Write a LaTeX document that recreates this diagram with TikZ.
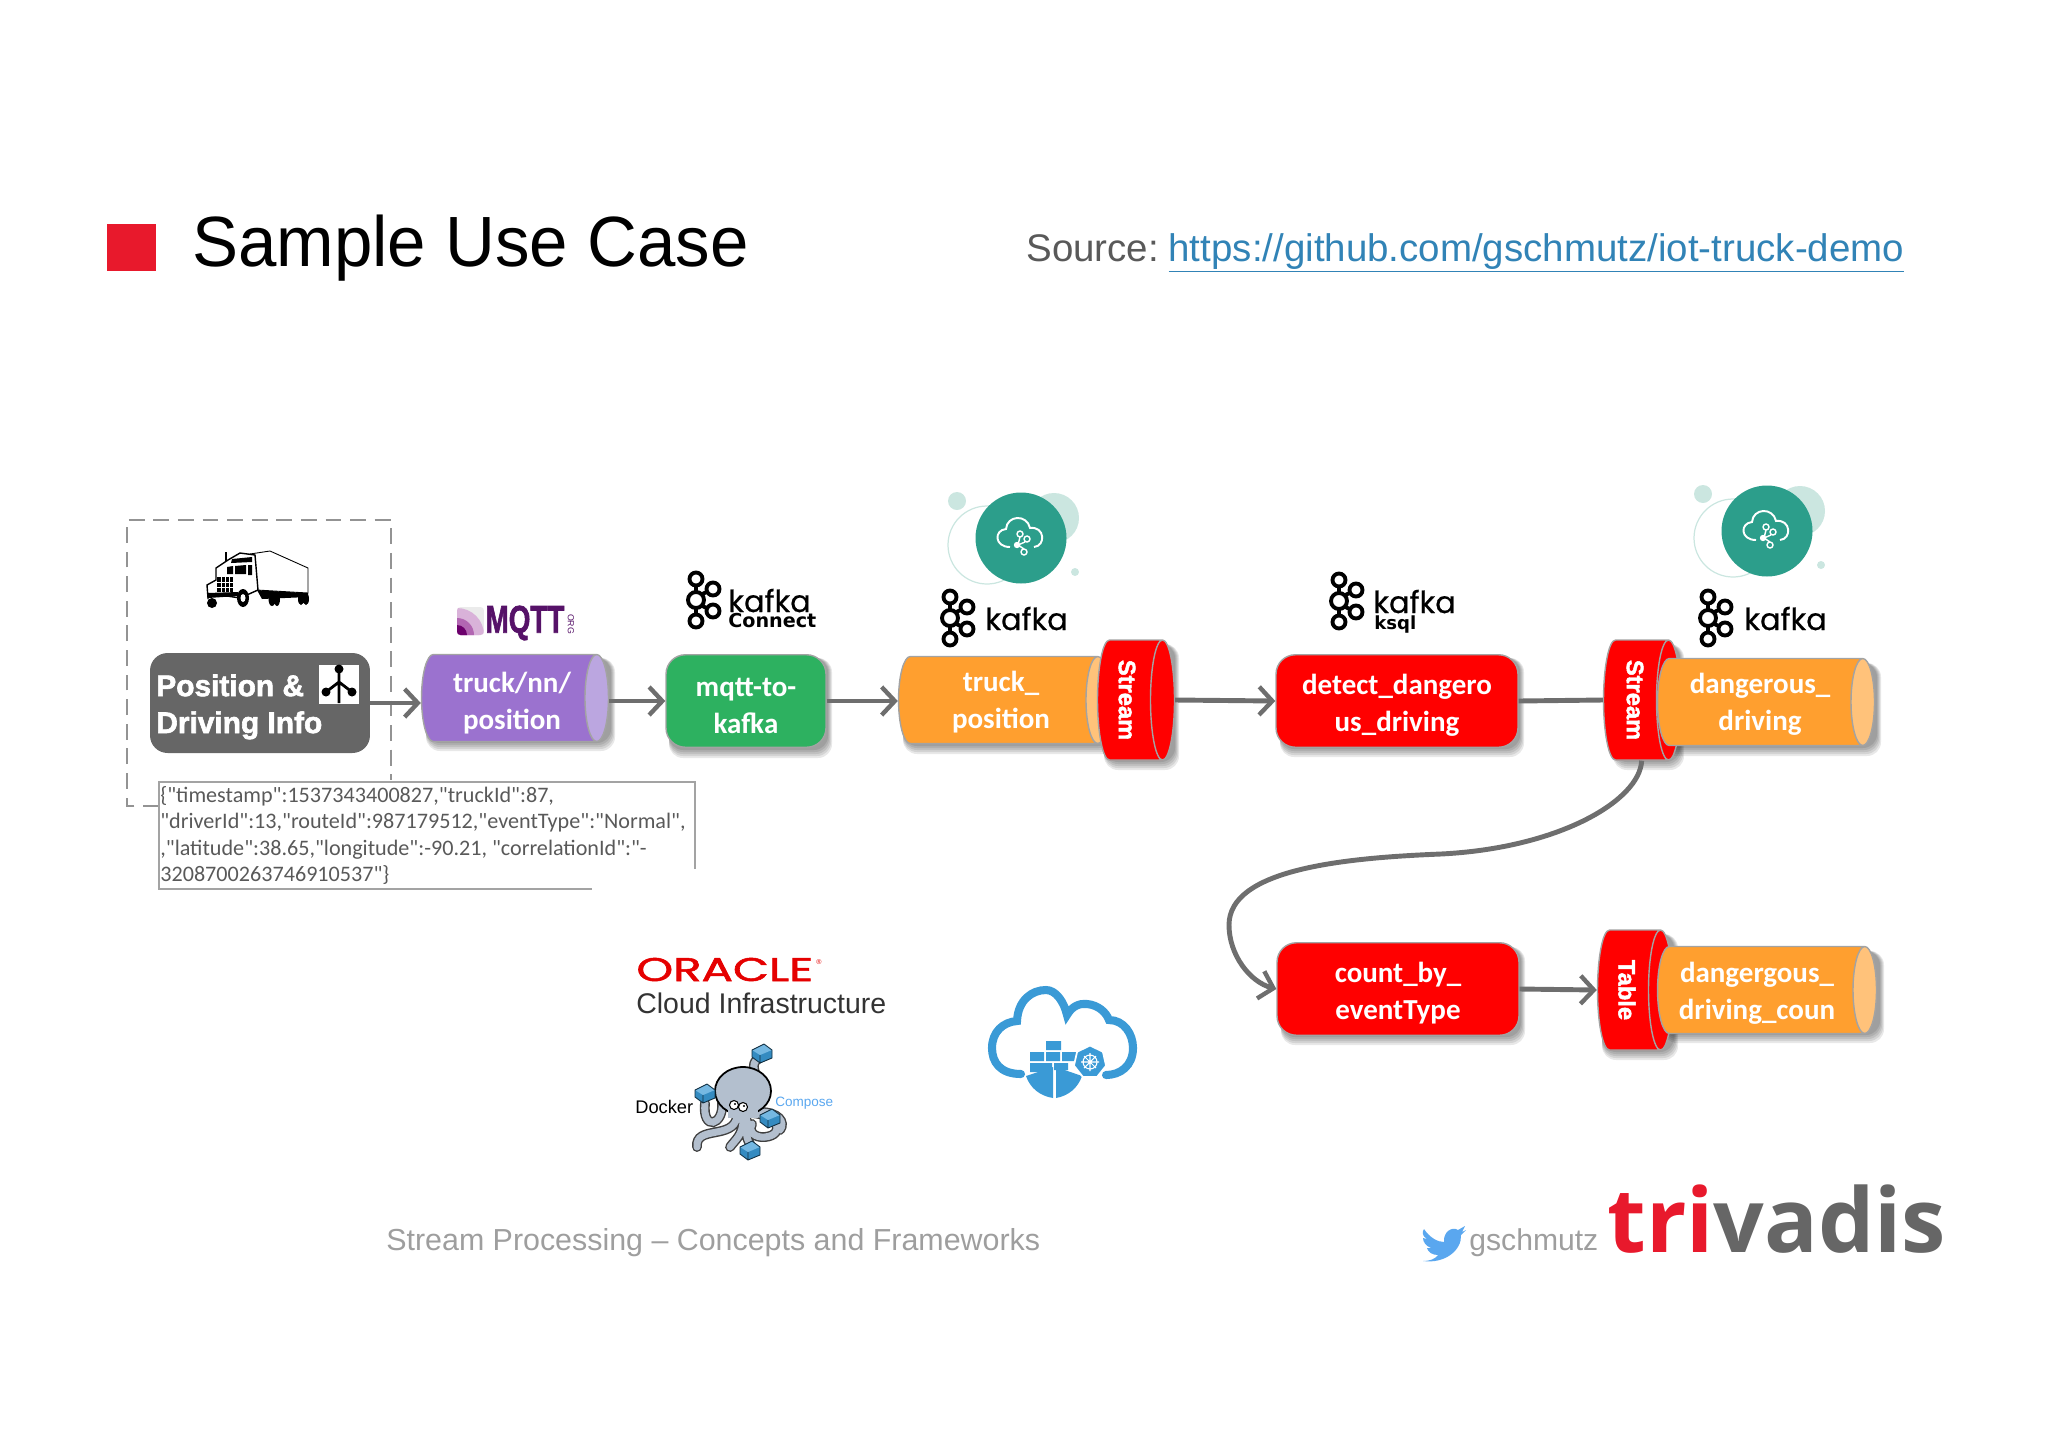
\documentclass[tikz,border=0pt]{standalone}
\usepackage{fontspec}
\usepackage{xcolor}
\usepackage{tikz}
\usetikzlibrary{arrows.meta,shapes.geometric}
\setmainfont{Carlito}
\newfontfamily\jsonfont{Carlito}
\newfontfamily\arialfont{Liberation Sans}
\newfontfamily\heavyfont{Liberation Sans}[BoldFeatures={FakeBold=2}]
\newfontfamily\dejafont{DejaVu Sans}
\newfontfamily\popfont{Poppins}[FakeBold=0.5]
\newfontfamily\oraclefont{Poppins}[FakeBold=1.5]
\newfontfamily\opensfont{Open Sans}
\definecolor{trivared}{HTML}{E8192C}
\definecolor{linegray}{HTML}{6E6E6E}
\definecolor{rimgray}{HTML}{A3A3A3}
\definecolor{procorange}{HTML}{FF9F2F}
\definecolor{endorange}{HTML}{FFC27A}
\definecolor{topicpurple}{HTML}{9B72CF}
\definecolor{endpurple}{HTML}{BBA6E0}
\definecolor{kgreen}{HTML}{2DB160}
\definecolor{teal}{HTML}{2C9E8B}
\definecolor{paleteal}{HTML}{CBE6E0}
\definecolor{cloudblue}{HTML}{3A9AD6}
\definecolor{birdblue}{HTML}{5AA7EF}
\definecolor{octogray}{HTML}{B3BFCE}
\definecolor{mqttpurple}{HTML}{561268}
\newcommand{\softshade}[4]{\foreach \s in {1,...,5}
    \fill[black,opacity=.09,rounded corners=8pt] ({#1+4},{#2+4}) rectangle ({#3+\s+1},{#4+2*\s});}
\newcommand{\liftline}{\rule{0pt}{16pt}}
\tikzset{
    flow/.style={draw=linegray,line width=2.8pt,-{Straight Barb[length=7.5pt,width=16pt,line width=2.5pt]}},
    flowplain/.style={draw=linegray,line width=2.8pt},
    nodefont/.style={text=white,font=\fontsize{16.5}{21}\selectfont\bfseries,align=center},
    procbox/.style={rounded corners=11pt,draw=rimgray,line width=.8pt,inner sep=0pt,minimum width=4.84cm,minimum height=1.85cm,
        fill=red,nodefont},
    topiccyl/.style={cylinder,anchor=shape center,draw=rimgray,line width=.8pt,inner sep=0pt,shape aspect=.27,cylinder uses custom fill,
        cylinder body fill=procorange,cylinder end fill=endorange,execute at begin node={\rule{0pt}{1.74cm}}},
    topictext/.style={inner sep=0pt,nodefont},
    sidecyl/.style={cylinder,anchor=shape center,draw=rimgray,line width=.8pt,inner sep=0pt,shape aspect=.2,cylinder uses custom fill,
        cylinder body fill=red,cylinder end fill=red,execute at begin node={\rule{0pt}{2.4cm}}},
    sidetext/.style={text=white,inner sep=0pt,rotate=-90,font=\heavyfont\fontsize{13.5}{14}\selectfont\bfseries},
    kafkaword/.style={inner sep=0pt,anchor=base west,font=\popfont\fontsize{17.3}{18}\selectfont},
    kafkasub/.style={inner sep=0pt,anchor=base west,font=\dejafont\fontsize{10.9}{11}\selectfont\bfseries},
    plaintext/.style={inner sep=0pt,anchor=base west},
    kafkamark/.pic={
        \draw[line width=2.2pt] (0,-21) -- (0,21) (0,-3) -- (17,-11) (0,3) -- (17,11);
        \foreach \cx/\cy/\cr in {0/-21/6.5,0/21/6.5,17/-11/6.5,17/11/6.5,0/0/8}
            \draw[line width=2.2pt,fill=white] (\cx,\cy) circle[radius=\cr];
    },
    badge/.pic={
        \fill[paleteal] (-64,-37) circle[radius=9] (33,-20) circle[radius=25] (54,34) circle[radius=4];
        \draw[paleteal,line width=.7pt] (-34,7) circle[radius=39];
        \fill[teal] (0,0) circle[radius=45.5];
        \draw[white,line width=1.1pt] (-11,9) .. controls (-27,9) and (-27,-8) .. (-15,-9) .. controls (-14,-23) and (6,-24) .. (9,-10)
            .. controls (24,-12) and (25,8) .. (13,9);
        \draw[white,line width=.8pt,fill=teal] (-1,-4) circle[radius=3] (6,1) circle[radius=3] (3,14) circle[radius=3] (-3,7) -- (-1,-1) (-3,7) -- (4,4) (-3,7) -- (3,11);
        \fill[white] (-4,7) circle[radius=3.2];
    },
    cubebox/.pic={
        \fill[cloudblue!90!black] (-10,-3) -- (2,-9) -- (10,-3) -- (10,5) -- (-2,10) -- (-10,4) -- cycle;
        \fill[cloudblue!70!white] (-10,-3) -- (2,-9) -- (10,-3) -- (-2,2) -- cycle;
        \draw[black!70!cloudblue,line width=.5pt] (-10,-3) -- (2,-9) -- (10,-3) -- (10,5) -- (-2,10) -- (-10,4) -- cycle (-2,2) -- (-2,10);
    },
}
\begin{document}
\begin{tikzpicture}[x=0.02cm,y=-0.02cm]
    \useasboundingbox (0,0) rectangle (2048,1447);

    % header
    \fill[trivared] (107,224) rectangle (156,271);
    \node[plaintext,xscale=.97,font=\arialfont\fontsize{40.5}{44}\selectfont] (title) at (192,266) {Sample Use Case};
    \node[plaintext,font=\arialfont\fontsize{21.9}{24}\selectfont,text=black!65] (source) at (1026,261)
        {Source:\hspace{.25em}\textcolor{cloudblue!85!black}{\underline{https://github.com/gschmutz/iot-truck-demo}}};

    % source of the events
    \draw[rimgray!90!black,dash pattern=on 9pt off 5pt,line width=1pt] (159,806) -- (127,806) -- (127,520) -- (391,520) -- (391,780);
    \begin{scope}[line width=.5pt]
        \fill[black] (257,590) -- (308,593) -- (308,597) -- (262,599) -- cycle;
        \draw[fill=white] (250,554) -- (270,551) -- (308,568) -- (308,593) -- (257,590) -- cycle;
        \draw[line width=1pt] (226,552) -- (226,566);
        \draw[fill=white,line width=.8pt] (228,560) -- (240,553) -- (255,555) -- (258,590) -- (240,598) -- (214,594) -- (208,598) -- (207,585) -- (216,580) -- (216,568) -- cycle;
        \fill[black] (232,559) -- (252,557) -- (252,562) -- (231,563) -- cycle (227,567) -- (233,566) -- (233,574) -- (227,574) -- cycle (235,566) -- (246,565) -- (246,574) -- (235,574) -- cycle (248,565) -- (252,565) -- (252,575) -- (248,575) -- cycle;
        \fill[black] (217,577) rectangle (233,592);
        \draw[white,line width=.35pt] (221,577) -- (221,592) (225,577) -- (225,592) (229,577) -- (229,592) (217,582) -- (233,582) (217,587) -- (233,587);
        \fill[black] (207,593) -- (238,592) -- (238,596) -- (208,598) -- cycle;
        \fill[black] (212,603) ellipse[x radius=5,y radius=5] (243,598) ellipse[x radius=6,y radius=9]
            (272,599) ellipse[x radius=3.5,y radius=7] (277,599) ellipse[x radius=3,y radius=7] (301,599) ellipse[x radius=3,y radius=6] (306,599) ellipse[x radius=3,y radius=6];
        \fill[white] (243,598) ellipse[x radius=2.5,y radius=4];
    \end{scope}
    \node[fill=black!60,rounded corners=10pt,inner sep=0pt,minimum width=4.4cm,minimum height=2cm] (position) at (260,703) {};
    \node[plaintext,text=white,align=left,font=\heavyfont\fontsize{17}{21}\selectfont\bfseries] (positiontext) at (156,733) {Position \&\\Driving Info};
    \fill[white] (319,665) rectangle (359,704);
    \draw[line width=1.6pt] (339,669) -- (339,703) (326,692) -- (339,682) -- (352,692);
    \fill[black] (339,669) circle[radius=4.5] (326,692) circle[radius=4.5] (352,692) circle[radius=4.5];

    \node[plaintext,anchor=north west,align=left,text=black!65,font=\jsonfont\fontsize{12.6}{15}\selectfont] (json) at (160,786)
        {\{"timestamp":1537343400827,"truckId":87,\\"driverId":13,"routeId":987179512,"eventType":"Normal",\\,"latitude":38.65,"longitude":-90.21, "correlationId":"-\\3208700263746910537"\}};
    \draw[rimgray,line width=1.1pt] (695,869) -- (695,782) -- (159,782) -- (159,889) -- (592,889);

    % mqtt logo
    \begin{scope}
        \clip[rounded corners=2pt] (457,607) rectangle (484,635);
        \fill[black!8] (457,607) rectangle (484,635);
        \fill[violet!30] (457,635) circle[radius=27];
        \fill[white!70!violet] (457,635) circle[radius=22];
        \fill[violet!60] (457,635) circle[radius=17];
        \fill[violet!85!black] (457,635) circle[radius=10];
    \end{scope}
    \node[inner sep=0pt,xscale=.72,text=mqttpurple,font=\heavyfont\fontsize{22}{23}\selectfont\bfseries] (mqtt) at (525,623) {MQTT};
    \node[inner sep=0pt,rotate=-90,text=mqttpurple,font=\arialfont\fontsize{5}{5}\selectfont] (mqttorg) at (571,624) {ORG};

    % shadows first, they lie under everything in the row
    \softshade{422}{654}{609}{741}
    \softshade{665}{654}{826}{748}
    \softshade{899}{657}{1110}{744}
    \softshade{1100}{640}{1173}{760}
    \softshade{1276}{654}{1518}{747}
    \softshade{1609}{640}{1678}{760}
    \softshade{1658}{659}{1875}{746}
    \softshade{1277}{943}{1519}{1035}
    \softshade{1598}{930}{1672}{1050}
    \softshade{1659}{947}{1878}{1033}

    % flow, upper row
    \node[topiccyl,minimum height=3.74cm,cylinder body fill=topicpurple,cylinder end fill=endpurple] (mqtttopic) at (515,698) {};
    \node[topictext] (mqtttopictext) at (512,703) {truck/nn/\\position};
    \node[procbox,fill=kgreen,minimum width=3.2cm] (mqttkafka) at (746,701) {\liftline mqtt-to-\\kafka};
    \node[topiccyl,minimum height=4.22cm] (truckpos) at (1004,700) {};
    \node[topictext] (truckpostext) at (1001,702) {truck\_\\position};
    \node[sidecyl,minimum height=1.54cm] (stream1) at (1136,700) {};
    \node[sidetext] (stream1text) at (1127,700) {Stream};
    \node[procbox] (detect) at (1397,701) {\liftline detect\_dangero\\us\_driving};
    \node[sidecyl,minimum height=1.54cm] (stream2) at (1642,700) {};
    \node[sidetext] (stream2text) at (1635,700) {Stream};
    \node[topiccyl,minimum height=4.34cm] (dangerous) at (1766,702) {};
    \node[topictext] (dangeroustext) at (1760,704) {dangerous\_\\driving};

    % flow, lower row
    \node[procbox] (countby) at (1398,989) {\liftline count\_by\_\\eventType};
    \node[sidecyl,minimum height=1.5cm] (table) at (1635,990) {};
    \node[sidetext] (tabletext) at (1627,990) {Table};
    \node[topiccyl,minimum height=4.38cm] (dangercount) at (1767,990) {};
    \node[topictext] (dangercounttext) at (1757,993) {dangergous\_\\driving\_coun};

    \draw[flow] (position.east) -- (position.east -| mqtttopic.west);
    \draw[flow] (mqtttopic.east |- mqttkafka.west) -- (mqttkafka.west);
    \draw[flow] (mqttkafka.east) -- (mqttkafka.east -| truckpos.west);
    \draw[flow] (stream1.east) -- (detect.west);
    \draw[flowplain] (detect.east) -- (stream2.west);
    \draw[flow] (countby.east) -- (table.west);
    \draw[flow] ([xshift=3.4pt]stream2.south) .. controls (1640,800) and (1560,848) .. (1441,854)
        .. controls (1340,858) and (1229,870) .. (1229,925) .. controls (1229,955) and (1250,982) .. (countby.west);

    % logos above the row
    \pic at (950,618) {kafkamark};
    \node[kafkaword] (kafka1) at (985,630) {kafka};
    \pic at (1021,538) {badge};
    \pic at (696,600) {kafkamark};
    \node[kafkaword] (kafkaconn) at (728,612) {kafka};
    \node[kafkasub] (connect) at (728,627) {Connect};
    \pic at (1339,601) {kafkamark};
    \node[kafkaword] (kafkaksql) at (1373,613) {kafka};
    \node[kafkasub,font=\dejafont\fontsize{10.3}{11}\selectfont\bfseries] (ksql) at (1374,629) {ksql};
    \pic at (1708,618) {kafkamark};
    \node[kafkaword] (kafka2) at (1744,630) {kafka};
    \pic at (1767,531) {badge};

    % oracle and docker
    \node[plaintext,xscale=1.42,text=red!90!black,font=\oraclefont\fontsize{18.7}{19}\selectfont] (oracle) at (636,981) {ORACLE};
    \node[plaintext,text=red!90!black,font=\arialfont\fontsize{4}{4}\selectfont] (oraclereg) at (816,964) {®};
    \node[plaintext,text=black!80,font=\arialfont\fontsize{16.2}{18}\selectfont] (oci) at (636,1013) {Cloud Infrastructure};
    \node[plaintext,font=\arialfont\fontsize{10.4}{11}\selectfont] (docker) at (635,1113) {Docker};
    \begin{scope}
        \foreach \wd/\col in {5.6pt/black!75,4pt/octogray}
            \draw[line width=\wd,\col,line cap=round] (755,1073) .. controls (752,1062) and (755,1060) .. (764,1056)
                (722,1103) .. controls (724,1125) and (702,1132) .. (705,1103)
                (737,1117) .. controls (733,1140) and (695,1125) .. (697,1147)
                (743,1120) .. controls (743,1135) and (735,1140) .. (730,1147)
                (747,1120) .. controls (745,1135) and (747,1140) .. (752,1147)
                (752,1113) .. controls (780,1115) and (785,1135) .. (765,1137) .. controls (755,1138) and (748,1132) .. (752,1124)
                (760,1112) .. controls (778,1112) and (786,1122) .. (780,1130);
        \draw[line width=1pt,fill=octogray] (743,1091) ellipse[x radius=28,y radius=24];
        \fill[octogray] (728,1102) rectangle (758,1118);
        \draw[line width=.6pt,fill=white] (734,1105) circle[radius=4.5] (743,1107) circle[radius=4.5];
        \fill (735,1104) circle[radius=1.2] (744,1106) circle[radius=1.2];
        \pic at (762,1053) {cubebox};
        \pic at (705,1093) {cubebox};
        \pic at (770,1118) {cubebox};
        \pic at (750,1150) {cubebox};
    \end{scope}
    \node[plaintext,text=birdblue,font=\arialfont\fontsize{7.7}{8}\selectfont] (compose) at (775,1106) {Compose};

    % cloud with ship
    \draw[cloudblue,line width=4.6pt,line cap=round] (1021,1074) .. controls (1000,1074) and (992,1062) .. (992,1048)
        .. controls (992,1032) and (1003,1022) .. (1017,1021) .. controls (1018,1000) and (1032,990) .. (1046,990)
        .. controls (1056,990) and (1064,1002) .. (1067,1015) .. controls (1072,1006) and (1080,1003) .. (1087,1004)
        .. controls (1098,1005) and (1106,1012) .. (1109,1020) .. controls (1124,1020) and (1133,1034) .. (1133,1048)
        .. controls (1133,1066) and (1120,1075) .. (1106,1075);
    \fill[cloudblue] (1046,1041) rectangle (1061,1050) (1030,1052) rectangle (1044,1061) (1046,1052) rectangle (1060,1061) (1062,1052) rectangle (1076,1061)
        (1030,1063) rectangle (1052,1072) (1054,1063) rectangle (1068,1070);
    \fill[cloudblue] (1026,1076) -- (1053,1067) -- (1053,1098) .. controls (1040,1096) and (1030,1088) .. (1026,1076);
    \fill[cloudblue] (1082,1076) -- (1056,1067) -- (1056,1098) .. controls (1068,1096) and (1078,1088) .. (1082,1076);
    \node[regular polygon,regular polygon sides=7,fill=cloudblue,draw=white,line width=1pt,inner sep=0pt,minimum size=.66cm] (helm) at (1090,1062) {};
    \draw[white,line width=.6pt] (1090,1062) circle[radius=7] (1081,1062) -- (1099,1062) (1090,1053) -- (1090,1071) (1084,1056) -- (1096,1068) (1084,1068) -- (1096,1056);

    % footer
    \node[plaintext,text=black!38,font=\arialfont\fontsize{17.3}{18}\selectfont] (footer) at (386,1250) {Stream Processing – Concepts and Frameworks};
    \fill[birdblue] (1424,1229) .. controls (1430,1238) and (1438,1242) .. (1444,1242) .. controls (1443,1232) and (1452,1226) .. (1458,1230)
        -- (1465,1226) -- (1462,1232) -- (1466,1230) -- (1461,1235) .. controls (1462,1250) and (1445,1264) .. (1423,1261)
        .. controls (1430,1261) and (1435,1259) .. (1438,1255) .. controls (1432,1255) and (1428,1252) .. (1427,1248) -- (1431,1248)
        .. controls (1426,1246) and (1423,1242) .. (1423,1238) -- (1427,1239) .. controls (1422,1236) and (1422,1232) .. (1424,1229);
    \node[plaintext,text=black!38,font=\arialfont\fontsize{17.15}{18}\selectfont] (handle) at (1469,1250) {gschmutz};
    \node[plaintext,font=\opensfont\fontsize{50.7}{51}\selectfont\bfseries] (trivadis) at (1607,1252) {\textcolor{trivared}{tri}\textcolor{black!60}{vadis}};
\end{tikzpicture}
\end{document}
